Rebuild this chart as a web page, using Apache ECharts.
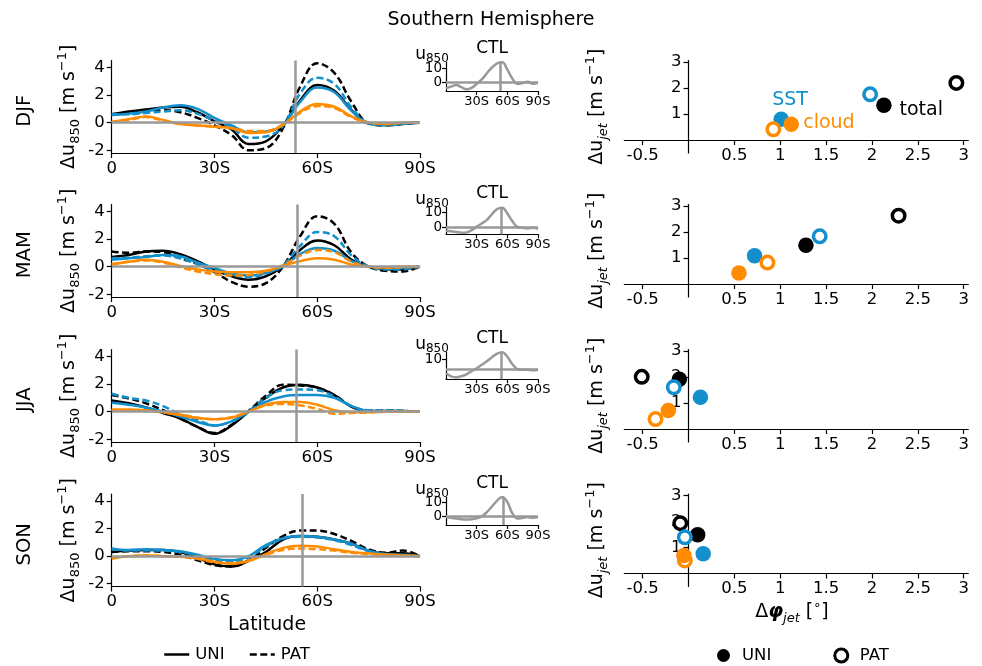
<!DOCTYPE html>
<html><head><meta charset="utf-8">
<script src="https://cdn.jsdelivr.net/npm/echarts@6/dist/echarts.min.js"></script>
<style>html,body{margin:0;padding:0;background:#fff}#c{width:982px;height:666px}</style>
</head><body><div id="c"></div>
<script>
// ---------- data ----------
const lats = [0,5,10,15,20,25,30,35,40,45,50,55,60,65,70,75,80,85,90];
const seasons = ['DJF','MAM','JJA','SON'];
const latTicks = [0,30,60,90];
const latTickLabels = ['0','30S','60S','90S'];
const jetLat = [53.5,54.2,54.0,55.7];

// Δu850 responses (m/s) — DJF
const djf_total_uni = [0.6,0.8,0.95,1.1,1.15,0.75,0.1,-0.5,-1.55,-1.35,-0.2,1.6,2.72,2.3,0.9,-0.05,-0.1,-0.05,0.0];
const djf_total_pat = [0.6,0.7,0.8,0.9,0.75,0.35,-0.2,-0.9,-2.0,-1.85,-0.4,2.6,4.3,3.6,1.5,-0.05,-0.2,-0.1,0.0];
const djf_sst_uni   = [0.55,0.65,0.8,1.1,1.25,1.0,0.35,-0.2,-0.7,-0.65,-0.15,1.5,2.55,2.2,0.85,-0.05,-0.15,-0.05,0.0];
const djf_sst_pat   = [0.6,0.6,0.7,0.8,0.9,0.65,0.15,-0.35,-1.1,-1.0,-0.25,2.1,3.25,2.8,1.1,-0.05,-0.2,-0.1,0.0];
const djf_cloud_uni = [0.05,0.25,0.45,0.2,-0.1,-0.2,-0.3,-0.4,-0.75,-0.7,-0.15,0.8,1.35,1.15,0.45,0.0,-0.1,0.0,0.0];
const djf_cloud_pat = [0.05,0.2,0.4,0.15,-0.1,-0.2,-0.3,-0.4,-0.6,-0.6,-0.15,0.7,1.2,1.05,0.4,0.0,-0.1,0.0,0.0];
// MAM
const mam_total_uni = [0.7,0.85,1.1,1.15,0.9,0.4,-0.2,-0.7,-0.95,-0.7,0.0,1.2,1.9,1.55,0.5,0.0,-0.2,-0.2,0.0];
const mam_total_pat = [1.1,1.0,1.1,1.05,0.6,0.2,-0.4,-1.1,-1.45,-1.2,0.0,2.2,3.65,3.1,1.0,0.0,-0.3,-0.35,0.0];
const mam_sst_uni   = [0.5,0.6,0.7,0.85,0.75,0.3,-0.1,-0.5,-0.65,-0.45,0.0,0.9,1.35,1.15,0.4,0.0,-0.15,-0.1,0.0];
const mam_sst_pat   = [0.6,0.65,0.75,0.8,0.6,0.2,-0.3,-0.6,-0.75,-0.5,0.1,1.5,2.5,2.2,0.8,0.0,-0.2,-0.2,0.0];
const mam_cloud_uni = [0.15,0.35,0.5,0.35,0.05,-0.2,-0.35,-0.4,-0.4,-0.3,0.05,0.4,0.6,0.5,0.15,0.0,-0.05,0.0,0.0];
const mam_cloud_pat = [0.2,0.35,0.45,0.3,-0.05,-0.35,-0.55,-0.65,-0.6,-0.35,0.1,0.8,1.2,1.05,0.35,0.0,-0.1,-0.05,0.0];
// JJA
const jja_total_uni = [0.8,0.6,0.3,-0.1,-0.5,-1.1,-1.6,-1.0,0.0,1.0,1.75,1.95,1.75,1.2,0.35,0.05,0.05,0.05,0.0];
const jja_total_pat = [1.2,0.95,0.6,0.1,-0.5,-1.1,-1.55,-0.95,0.05,1.15,1.95,1.9,1.75,1.2,0.4,0.1,0.1,0.05,0.0];
const jja_sst_uni   = [0.65,0.5,0.3,0.0,-0.35,-0.75,-1.0,-0.7,0.0,0.7,1.1,1.2,1.2,1.0,0.4,0.05,0.0,0.0,0.0];
const jja_sst_pat   = [1.3,1.0,0.8,0.4,-0.2,-0.6,-1.0,-0.7,0.0,1.0,1.55,1.6,1.55,1.1,0.4,0.1,0.1,0.05,0.0];
const jja_cloud_uni = [0.15,0.15,0.1,-0.05,-0.25,-0.45,-0.55,-0.45,0.0,0.5,0.7,0.7,0.5,0.1,-0.05,-0.05,0.0,0.0,0.0];
const jja_cloud_pat = [0.1,0.1,0.05,-0.05,-0.2,-0.45,-0.55,-0.4,0.0,0.45,0.55,0.45,0.2,-0.15,-0.1,-0.05,0.0,0.0,0.0];
// SON
const son_total_uni = [0.3,0.4,0.45,0.45,0.3,-0.1,-0.6,-0.75,-0.35,0.3,1.2,1.45,1.4,1.2,0.9,0.4,0.2,0.2,0.0];
const son_total_pat = [0.3,0.35,0.35,0.3,0.1,-0.3,-0.65,-0.75,-0.3,0.6,1.45,1.85,1.85,1.6,1.1,0.5,0.25,0.4,0.0];
const son_sst_uni   = [0.5,0.45,0.5,0.45,0.35,0.1,-0.2,-0.3,0.0,0.8,1.3,1.45,1.4,1.2,0.9,0.4,0.15,0.1,0.0];
const son_sst_pat   = [0.55,0.4,0.4,0.4,0.3,0.05,-0.3,-0.45,-0.1,0.7,1.25,1.4,1.35,1.15,0.8,0.35,0.1,0.05,0.0];
const son_cloud_uni = [-0.2,0.0,0.05,0.0,-0.05,-0.15,-0.4,-0.55,-0.35,0.15,0.6,0.75,0.7,0.5,0.3,0.2,0.1,0.05,0.0];
const son_cloud_pat = [-0.1,0.0,0.05,0.0,-0.05,-0.2,-0.45,-0.5,-0.3,0.1,0.45,0.55,0.5,0.4,0.25,0.15,0.1,0.05,0.0];

// CTL u850 (m/s)
const ctl_djf = [-4.3,-3,-1.9,-3.5,-5,-4,-1.2,2,6.4,10.5,13.5,14.2,9,2.5,-1.2,-0.5,0.4,-1,-0.3];
const ctl_mam = [-2.6,-3,-3.5,-4,-3.8,-2.2,0.2,2.5,5,9,12.5,13.5,9.5,4,0,-0.5,-1,-0.5,-1.2];
const ctl_jja = [-4,-7,-8,-7,-5,-2,1,4.5,8,12,15.5,17,12.5,5,0,-0.5,-0.5,-1,-0.5];
const ctl_son = [-0.5,-1,-1.5,-2,-2.2,-2,-1.3,0,3,7,11,13.5,10,2,-1.5,-1,-0.5,-1,-0.5];
const ctlRange = [[-6.2,14.4],[-5.1,14.0],[-10,17.2],[-6,13.5]];
const ctlTicks = [0,10];

// jet shift scatter: [Δφjet (deg), Δujet (m/s)] per season DJF, MAM, JJA, SON
const jet_total_uni = [[2.13,1.33],[1.28,1.49],[-0.10,1.91],[0.10,1.49]];
const jet_total_pat = [[2.92,2.19],[2.29,2.62],[-0.51,2.00],[-0.09,1.93]];
const jet_sst_uni   = [[1.01,0.80],[0.72,1.08],[0.13,1.22],[0.16,0.76]];
const jet_sst_pat   = [[1.98,1.75],[1.43,1.83],[-0.16,1.60],[-0.04,1.39]];
const jet_cloud_uni = [[1.12,0.60],[0.55,0.42],[-0.22,0.71],[-0.05,0.69]];
const jet_cloud_pat = [[0.925,0.41],[0.86,0.82],[-0.36,0.38],[-0.04,0.50]];
const phiTicks = [-0.5,0.5,1,1.5,2,2.5,3];
const ujetTicks = [1,2,3];
const duTicks = [-2,0,2,4];
// annotation labels (DJF panel) in data coords
const annot = [{t:'SST',p:[1.107,1.52],c:'sst',al:'center'},{t:'cloud',p:[1.25,0.66],c:'cloud',al:'left'},{t:'total',p:[2.30,1.14],c:'total',al:'left'}];

// ---------- styling ----------
const fam = 'DejaVu Sans';
const COL = {total:'#000000', sst:'#138fcb', cloud:'#ff8c00'};
const GRAY = '#999999';
const DASH = [7,3.5];
const profiles = {
  DJF:{total:[djf_total_uni,djf_total_pat],sst:[djf_sst_uni,djf_sst_pat],cloud:[djf_cloud_uni,djf_cloud_pat]},
  MAM:{total:[mam_total_uni,mam_total_pat],sst:[mam_sst_uni,mam_sst_pat],cloud:[mam_cloud_uni,mam_cloud_pat]},
  JJA:{total:[jja_total_uni,jja_total_pat],sst:[jja_sst_uni,jja_sst_pat],cloud:[jja_cloud_uni,jja_cloud_pat]},
  SON:{total:[son_total_uni,son_total_pat],sst:[son_sst_uni,son_sst_pat],cloud:[son_cloud_uni,son_cloud_pat]}
};
const ctl = [ctl_djf,ctl_mam,ctl_jja,ctl_son];
const jets = {total:[jet_total_uni,jet_total_pat],sst:[jet_sst_uni,jet_sst_pat],cloud:[jet_cloud_uni,jet_cloud_pat]};

const tops = [60.5,204.5,349.5,494];
const panelH = 92.5;
const insetTops = [62,207,352,497];
const insetH = [29,27.3,27.3,28];
const scL = 624.3, scW = 344;
const scX = [-0.7,3.05], scY = [-0.5,3.05];

const grids=[], xAxis=[], yAxis=[], series=[], graphic=[];
function axisBase(fs){
  return {
    axisLine:{show:true,onZero:false,lineStyle:{color:'#000',width:1.2}},
    axisTick:{show:true,length:5,lineStyle:{color:'#000',width:1.2}},
    axisLabel:{color:'#000',fontSize:fs,fontFamily:fam},
    splitLine:{show:false}
  };
}
const lineRich = {
  a:{fontSize:19,fontFamily:fam,fill:'#000',lineHeight:26},
  b:{fontSize:13,fontFamily:fam,fill:'#000',lineHeight:13,verticalAlign:'bottom'},
  i:{fontSize:13,fontFamily:fam,fontStyle:'italic',fill:'#000',lineHeight:13,verticalAlign:'bottom'},
  p:{fontSize:13,fontFamily:fam,fill:'#000',lineHeight:13,verticalAlign:'top'},
  f:{fontSize:19,fontFamily:fam,fontStyle:'italic',fontWeight:'bold',fill:'#000',lineHeight:26}
};
function rotText(x,y,text,rich){
  return {type:'text',x:x,y:y,rotation:Math.PI/2,silent:true,
    style:{text:text,rich:rich,fontSize:19,fontFamily:fam,fill:'#000',align:'center',verticalAlign:'middle'}};
}

let gi = 0;
seasons.forEach((s,k)=>{
  // ---- profile panel ----
  grids.push({left:111.7,top:tops[k],width:308.3,height:panelH});
  let xa = axisBase(16.5); Object.assign(xa,{gridIndex:gi,type:'value',min:0,max:90});
  xa.axisTick.customValues = latTicks; xa.axisLabel.customValues = latTicks;
  xa.axisLabel.formatter = v => latTickLabels[latTicks.indexOf(v)];
  xa.axisLabel.margin = 7;
  let ya = axisBase(16.5); Object.assign(ya,{gridIndex:gi,type:'value',min:-2.2,max:4.5});
  ya.axisTick.customValues = duTicks; ya.axisLabel.customValues = duTicks;
  ya.axisLabel.margin = 7;
  xAxis.push(xa); yAxis.push(ya);
  ['total','sst','cloud'].forEach(c=>{
    ['uni','pat'].forEach((t,ti)=>{
      const arr = profiles[s][c][ti];
      series.push({type:'line',name:ti===0?'UNI':'PAT',xAxisIndex:gi,yAxisIndex:gi,
        data:lats.map((l,j)=>[l,arr[j]]),smooth:0.4,symbol:'none',silent:true,z:2,
        lineStyle:{color:COL[c],width:2.5,type:ti===0?'solid':DASH},itemStyle:{color:COL[c]}});
    });
  });
  series.push({type:'line',name:'ref',xAxisIndex:gi,yAxisIndex:gi,data:[],silent:true,z:3,
    markLine:{symbol:'none',silent:true,animation:false,label:{show:false},
      lineStyle:{color:GRAY,width:2.5,type:'solid'},data:[{yAxis:0},{xAxis:jetLat[k]}]}});
  gi++;

  // ---- CTL inset ----
  grids.push({left:446,top:insetTops[k],width:92,height:insetH[k]});
  let xi = axisBase(13); Object.assign(xi,{gridIndex:gi,type:'value',min:0,max:90});
  xi.axisTick.customValues = [30,60,90]; xi.axisLabel.customValues = [30,60,90];
  xi.axisTick.length = 4; xi.axisLabel.margin = 4;
  xi.axisLabel.formatter = v => latTickLabels[latTicks.indexOf(v)];
  let yi = axisBase(13.5); Object.assign(yi,{gridIndex:gi,type:'value',min:ctlRange[k][0],max:ctlRange[k][1]});
  yi.axisTick.customValues = ctlTicks; yi.axisLabel.customValues = ctlTicks;
  yi.axisTick.length = 4; yi.axisLabel.margin = 4;
  xAxis.push(xi); yAxis.push(yi);
  series.push({type:'line',name:'ctl',xAxisIndex:gi,yAxisIndex:gi,data:lats.map((l,j)=>[l,ctl[k][j]]),
    smooth:0.4,symbol:'none',silent:true,z:2,lineStyle:{color:GRAY,width:2.5}});
  series.push({type:'line',name:'ref',xAxisIndex:gi,yAxisIndex:gi,data:[],silent:true,z:3,
    markLine:{symbol:'none',silent:true,animation:false,label:{show:false},
      lineStyle:{color:GRAY,width:2.5,type:'solid'},data:[{yAxis:0},{xAxis:jetLat[k]}]}});
  graphic.push({type:'text',x:492,y:insetTops[k]-13,silent:true,style:{text:'CTL',fontSize:17,fontFamily:fam,fill:'#000',align:'center',verticalAlign:'middle'}});
  graphic.push({type:'text',x:432,y:insetTops[k]-7,silent:true,style:{text:'{a|u}{b|850}',
    rich:{a:{fontSize:17,fontFamily:fam,fill:'#000',lineHeight:20},b:{fontSize:12,fontFamily:fam,fill:'#000',lineHeight:11,verticalAlign:'bottom'}},
    align:'center',verticalAlign:'middle'}});
  gi++;

  // ---- jet shift scatter ----
  grids.push({left:scL,top:tops[k],width:scW,height:panelH});
  const offX = -(0 - scY[0])/(scY[1]-scY[0])*panelH;   // move x-axis line up to Δu=0
  const offY = -(0 - scX[0])/(scX[1]-scX[0])*scW;      // move y-axis line right to Δφ=0
  let xs = axisBase(16.5); Object.assign(xs,{gridIndex:gi,type:'value',min:scX[0],max:scX[1],position:'bottom',offset:offX});
  xs.axisTick.customValues = phiTicks; xs.axisLabel.customValues = phiTicks; xs.axisLabel.margin = 7;
  let ys = axisBase(16.5); Object.assign(ys,{gridIndex:gi,type:'value',min:scY[0],max:scY[1],position:'left',offset:offY});
  ys.axisTick.customValues = ujetTicks; ys.axisLabel.customValues = ujetTicks; ys.axisLabel.margin = 7;
  xAxis.push(xs); yAxis.push(ys);
  ['total','sst','cloud'].forEach(c=>{
    // PAT (open) then UNI (filled)
    series.push({type:'scatter',name:'PAT·pt',xAxisIndex:gi,yAxisIndex:gi,data:[jets[c][1][k]],
      symbol:'circle',symbolSize:12.5,silent:true,z:4,
      itemStyle:{color:'#ffffff',borderColor:COL[c],borderWidth:3.5,opacity:1}});
    series.push({type:'scatter',name:'UNI·pt',xAxisIndex:gi,yAxisIndex:gi,data:[jets[c][0][k]],
      symbol:'circle',symbolSize:15.5,silent:true,z:4,itemStyle:{color:COL[c],opacity:1}});
  });
  if(k===0){
    series.push({type:'scatter',name:'annot',xAxisIndex:gi,yAxisIndex:gi,symbolSize:0,silent:true,z:5,
      itemStyle:{opacity:1},
      data:annot.map(a=>({value:a.p,itemStyle:{opacity:1},label:{show:true,position:'inside',formatter:a.t,align:a.al,verticalAlign:'middle',
        color:COL[a.c],opacity:1,fontSize:19,fontFamily:fam,textBorderWidth:0,textShadowBlur:0}}))});
  }
  gi++;

  graphic.push({type:'text',x:25,y:tops[k]+panelH/2+4,rotation:Math.PI/2,silent:true,
    style:{text:s,fontSize:19.5,fontFamily:fam,fill:'#000',align:'center',verticalAlign:'middle'}});
  graphic.push(rotText(69,tops[k]+panelH/2,'{a|Δu}{b|850}{a| [m s}{p|−1}{a|]}',lineRich));
  graphic.push(rotText(597,tops[k]+panelH/2,'{a|Δu}{i|jet}{a| [m s}{p|−1}{a|]}',lineRich));
});
graphic.push({type:'text',x:267,y:625,silent:true,style:{text:'Latitude',fontSize:19,fontFamily:fam,fill:'#000',align:'center',verticalAlign:'middle'}});
graphic.push({type:'text',x:792,y:612,silent:true,style:{text:'{a|Δ}{f|φ}{i|jet}{a| [}{p|∘}{a|]}',rich:lineRich,align:'center',verticalAlign:'middle'}});

const option = {
  animation:false,
  backgroundColor:'#ffffff',
  title:{text:'Southern Hemisphere',left:'center',top:6,textStyle:{fontSize:19,fontWeight:'normal',color:'#000',fontFamily:fam}},
  legend:[
    {data:[{name:'UNI',itemStyle:{opacity:0},lineStyle:{color:'#000',width:2.5,type:'solid'}},
           {name:'PAT',itemStyle:{opacity:0},lineStyle:{color:'#000',width:2.5,type:DASH}}],
     left:163,top:646,padding:0,itemWidth:25,itemHeight:14,itemGap:24,selectedMode:false,
     textStyle:{fontSize:16.5,fontFamily:fam,color:'#000',padding:[0,0,0,1]}},
    {data:[{name:'UNI·pt',icon:'circle',itemStyle:{color:'#000',borderWidth:0}},{name:'PAT·pt',icon:'circle',itemStyle:{color:'#fff',borderColor:'#000',borderWidth:3}}],
     left:717,top:647,padding:0,itemWidth:13,itemHeight:13,itemGap:62,selectedMode:false,
     formatter:n=>n.replace('·pt',''),
     textStyle:{fontSize:16.5,fontFamily:fam,color:'#000',padding:[0,0,0,7]}}
  ],
  grid:grids, xAxis:xAxis, yAxis:yAxis, series:series, graphic:graphic
};
const chart = echarts.init(document.getElementById('c'),null,{renderer:'canvas'});
chart.setOption(option);
</script>
</body></html>
